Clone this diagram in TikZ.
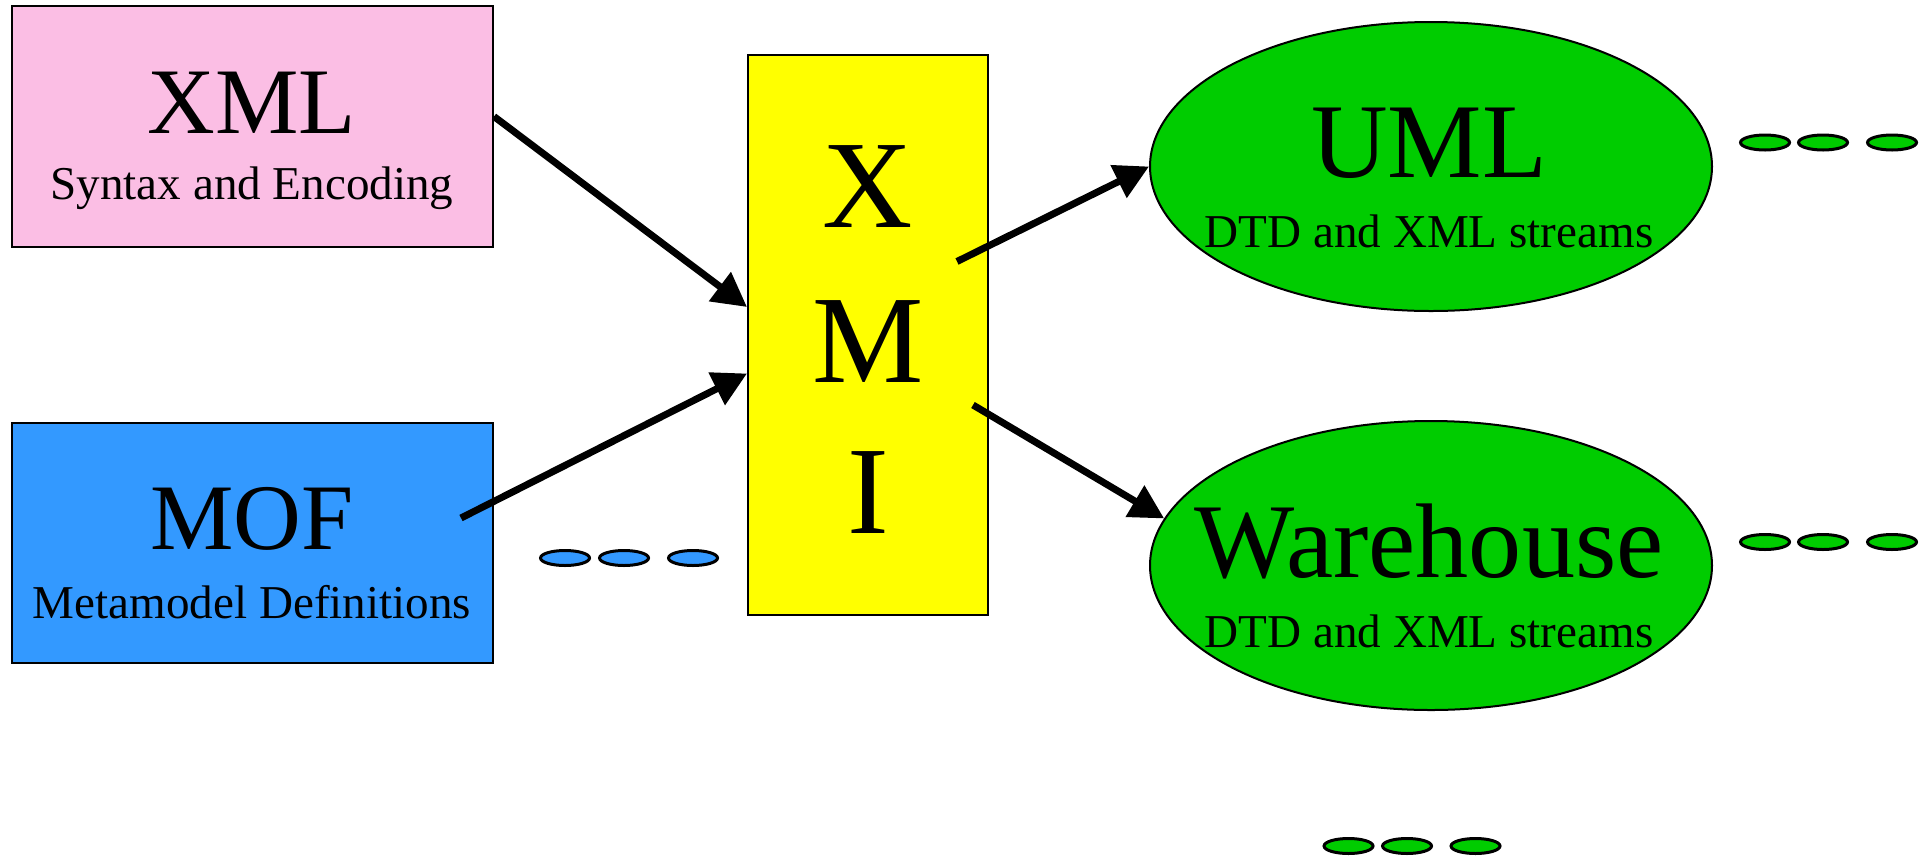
\documentclass[tikz,border=0pt]{standalone}
\usepackage{fontspec}
\setmainfont{Liberation Serif}
\usetikzlibrary{shapes.geometric,arrows.meta}

\definecolor{r251g190b228}{RGB}{251,190,228}
\definecolor{r51g153b255}{RGB}{51,153,255}
\definecolor{r255g255b0}{RGB}{255,255,0}
\definecolor{r0g204b0}{RGB}{0,204,0}

\tikzset{
  box/.style={draw, line width=0.02cm, inner sep=0pt},
  blob/.style={ellipse, draw, line width=0.02cm, fill=r0g204b0,
    minimum width=5.62cm, minimum height=2.89cm, inner sep=0pt},
  pill/.style={ellipse, draw, line width=0.03cm, minimum width=0.49cm,
    minimum height=0.15cm, inner sep=0pt},
  link/.style={line width=0.07cm, -{Triangle[length=0.34cm,width=0.35cm]}},
  boxtitle/.style={anchor=base, inner sep=0pt, font=\fontsize{26.7}{30}\selectfont},
  blobtitle/.style={anchor=base, inner sep=0pt, font=\fontsize{30.2}{34}\selectfont},
  xmiletter/.style={anchor=base, inner sep=0pt, font=\fontsize{35.6}{40}\selectfont},
  subline/.style={anchor=base, inner sep=0pt, font=\fontsize{13.4}{16}\selectfont}
}

\begin{document}
\begin{tikzpicture}
  \useasboundingbox (0,0) rectangle (19.25,8.56);

  % Marking box XML
  \node [box, fill=r251g190b228, minimum width=4.81cm, minimum height=2.41cm] (xml) at (2.525,7.295) {};
  \node [boxtitle] (xmltitle) at (2.52,7.23) {XML};
  \node [subline] (xmlsub) at (2.52,6.57) {Syntax and Encoding};

  % Marking box MOF
  \node [box, fill=r51g153b255, minimum width=4.81cm, minimum height=2.40cm] (mof) at (2.525,3.13) {};
  \node [boxtitle] (moftitle) at (2.52,3.07) {MOF};
  \node [subline] (mofsub) at (2.52,2.38) {Metamodel Definitions};

  % Marking box XMI
  \node [box, fill=r255g255b0, minimum width=2.40cm, minimum height=5.60cm] (xmi) at (8.68,5.21) {};
  \node [xmiletter] (xmix) at (8.68,6.29) {X};
  \node [xmiletter] (xmim) at (8.68,4.74) {M};
  \node [xmiletter] (xmii) at (8.68,3.23) {I};

  % Marking ellipse UML
  \node [blob] (uml) at (14.31,6.895) {};
  \node [blobtitle] (umltitle) at (14.29,6.79) {UML};
  \node [subline] (umlsub) at (14.29,6.09) {DTD and XML streams};

  % Marking ellipse Warehouse
  \node [blob] (wh) at (14.31,2.905) {};
  \node [blobtitle] (whtitle) at (14.29,2.79) {Warehouse};
  \node [subline] (whsub) at (14.29,2.09) {DTD and XML streams};

  % Drawing arrows into XMI
  \draw [link] ([yshift=0.1cm]xml.east) -- ([yshift=0.28cm]xmi.west);
  \draw [link] ([shift={(-0.33,0.25)}]mof.east) -- ([yshift=-0.385cm]xmi.west);

  % Drawing arrows out of XMI
  \draw [link] ([shift={(-0.32,0.735)}]xmi.east) -- (uml.west);
  \draw [link] ([shift={(-0.16,-0.70)}]xmi.east) -- (wh.170);

  % Marking dots after MOF
  \foreach \x [count=\i] in {5.65,6.24,6.93}
    \node [pill, fill=r51g153b255] (mofdot\i) at (\x,2.98) {};

  % Marking dots after UML and Warehouse
  \foreach \x [count=\i] in {17.65,18.23,18.92} {
    \node [pill, fill=r0g204b0] (umldot\i) at (\x,7.135) {};
    \node [pill, fill=r0g204b0] (whdot\i) at (\x,3.14) {};
  }

  % Marking dots at the bottom
  \foreach \x [count=\i] in {13.485,14.07,14.755}
    \node [pill, fill=r0g204b0] (lowdot\i) at (\x,0.10) {};
\end{tikzpicture}
\end{document}
